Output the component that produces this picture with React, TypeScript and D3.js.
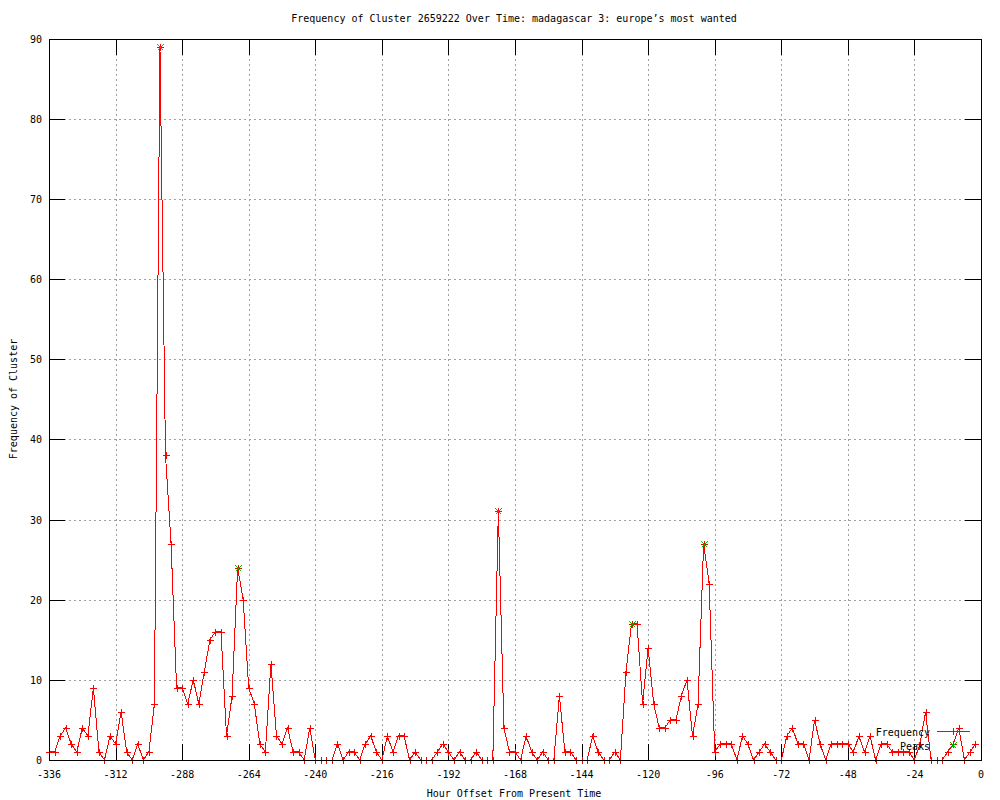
import React from "react";
import * as d3 from "d3";

const hours: number[] = d3.range(-336, 0, 2);
const frequency: number[] = [
  1, 1, 3, 4, 2, 1, 4, 3, 9, 1, 0, 3, 2, 6, 1, 0, 2, 0, 1, 7,
  89, 38, 27, 9, 9, 7, 10, 7, 11, 15, 16, 16, 3, 8, 24, 20, 9, 7, 2, 1,
  12, 3, 2, 4, 1, 1, 0, 4, 0, 0, 0, 0, 2, 0, 1, 1, 0, 2, 3, 1,
  0, 3, 1, 3, 3, 0, 1, 0, 0, 0, 1, 2, 1, 0, 1, 0, 0, 1, 0, 0,
  0, 31, 4, 1, 1, 0, 3, 1, 0, 1, 0, 0, 8, 1, 1, 0, 0, 0, 3, 1,
  0, 0, 1, 0, 11, 17, 17, 7, 14, 7, 4, 4, 5, 5, 8, 10, 3, 7, 27, 22,
  1, 2, 2, 2, 0, 3, 2, 0, 1, 2, 1, 0, 0, 3, 4, 2, 2, 0, 5, 2,
  0, 2, 2, 2, 2, 1, 3, 1, 3, 0, 2, 2, 1, 1, 1, 1, 0, 2, 6, 0,
  0, 0, 1, 2, 4, 0, 1, 2,
];
const peakHours: number[] = [-296, -268, -174, -126, -100];
const xTicks: number[] = d3.range(-336, 1, 24);
const yTicks: number[] = d3.range(0, 91, 10);

const TITLE = "Frequency of Cluster 2659222 Over Time: madagascar 3: europe\u2019s most wanted";
const XLABEL = "Hour Offset From Present Time";
const YLABEL = "Frequency of Cluster";

export default function App() {
  const W = 1000, H = 800;
  const L = 49, R = 981, T = 38.5, B = 760;
  const x = d3.scaleLinear().domain([-336, 0]).range([L, R]);
  const y = d3.scaleLinear().domain([0, 90]).range([B, T]);
  const data = hours.map((h, i) => ({ h, v: frequency[i] }));
  const peaks = peakHours.map((h) => ({ h, v: frequency[hours.indexOf(h)] }));
  const line = d3.line<{ h: number; v: number }>().x((d) => x(d.h)).y((d) => y(d.v));
  const font = "'DejaVu Sans Mono', monospace";
  const px = (v: number) => Math.round(v) + 0.5;
  const tl = 16;
  const s = 3;
  const red = "#ff0000";
  const green = "#00c000";
  const plus = (cx0: number, cy0: number) => {
    const cx = px(cx0), cy = px(cy0);
    return `M${cx - s - 0.5},${cy}H${cx + s + 0.5}M${cx},${cy - s - 0.5}V${cy + s + 0.5}`;
  };
  const cross = (cx0: number, cy0: number) => {
    const cx = px(cx0), cy = px(cy0);
    return `M${cx - s},${cy - s}L${cx + s},${cy + s}M${cx - s},${cy + s}L${cx + s},${cy - s}`;
  };

  return (
    <svg width={W} height={H} style={{ position: "absolute", left: 0, top: 0, background: "#fff" }}
      fontFamily={font} fontSize={10}>
      <rect x={0} y={0} width={W} height={H} fill="#fff" />
      {/* grid */}
      <g stroke="#a0a0a0" strokeDasharray="2,3" shapeRendering="crispEdges">
        {xTicks.slice(1, -1).map((t) => (
          <line key={"gx" + t} x1={px(x(t))} x2={px(x(t))} y1={T} y2={B} />
        ))}
        {yTicks.slice(1, -1).map((t) => (
          <line key={"gy" + t} x1={L} x2={R} y1={px(y(t))} y2={px(y(t))} />
        ))}
      </g>
      {/* ticks */}
      <g stroke="#000" shapeRendering="crispEdges">
        {xTicks.map((t) => (
          <g key={"tx" + t}>
            <line x1={px(x(t))} x2={px(x(t))} y1={B} y2={B - tl} />
            <line x1={px(x(t))} x2={px(x(t))} y1={T} y2={T + tl} />
          </g>
        ))}
        {yTicks.map((t) => (
          <g key={"ty" + t}>
            <line x1={L} x2={L + tl} y1={px(y(t))} y2={px(y(t))} />
            <line x1={R} x2={R - tl} y1={px(y(t))} y2={px(y(t))} />
          </g>
        ))}
      </g>
      {/* tick labels */}
      <g fill="#000">
        {xTicks.map((t) => (
          <text key={"lx" + t} x={x(t)} y={778} textAnchor="middle">{t}</text>
        ))}
        {yTicks.map((t) => (
          <text key={"ly" + t} x={42} y={y(t) + 4} textAnchor="end">{t}</text>
        ))}
      </g>
      {/* data */}
      <path d={line(data) || ""} fill="none" stroke={red} strokeWidth={1} shapeRendering="crispEdges" />
      <path d={data.map((d) => plus(x(d.h), y(d.v))).join("")} fill="none" stroke={red} strokeWidth={1} />
      <path d={peaks.map((d) => cross(x(d.h), y(d.v))).join("")} fill="none" stroke={green} strokeWidth={1}
        shapeRendering="crispEdges" />
      {/* border */}
      <rect x={px(L)} y={px(T)} width={Math.round(R) - Math.round(L)} height={Math.round(B) - Math.round(T)}
        fill="none" stroke="#000" shapeRendering="crispEdges" />
      {/* legend */}
      <text x={930} y={736} textAnchor="end">Frequency</text>
      <line x1={937} x2={970} y1={731.5} y2={731.5} stroke={red} />
      <path d={plus(953, 731)} stroke={red} fill="none" />
      <text x={930} y={750} textAnchor="end">Peaks</text>
      <path d={cross(953, 745)} stroke={green} fill="none" shapeRendering="crispEdges" />
      {/* titles */}
      <text x={514} y={22} textAnchor="middle">{TITLE}</text>
      <text x={514} y={797} textAnchor="middle">{XLABEL}</text>
      <text transform={`translate(17,399) rotate(-90)`} textAnchor="middle">{YLABEL}</text>
    </svg>
  );
}
